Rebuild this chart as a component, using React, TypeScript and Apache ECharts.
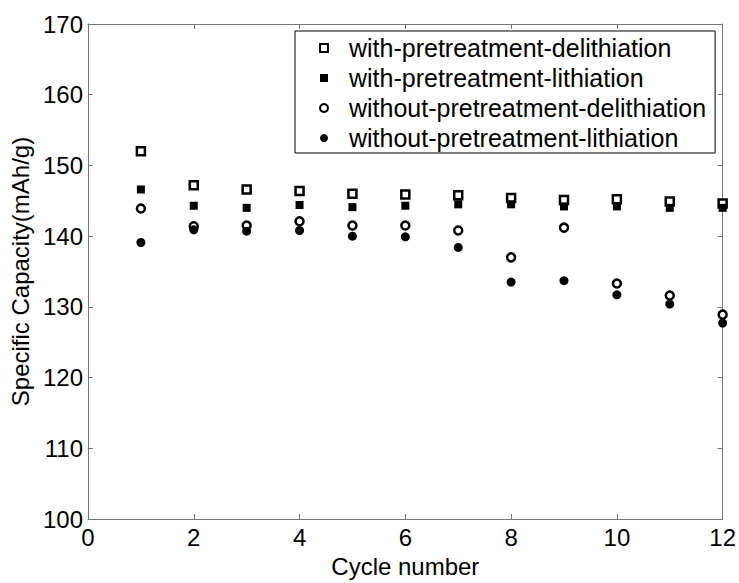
import React, { useEffect, useRef } from "react";
import * as echarts from "echarts";

const cycles = [1, 2, 3, 4, 5, 6, 7, 8, 9, 10, 11, 12];
const withPreDelith = [152.0, 147.2, 146.6, 146.4, 146.0, 145.9, 145.8, 145.4, 145.1, 145.2, 144.9, 144.6];
const withPreLith = [146.6, 144.3, 144.0, 144.4, 144.1, 144.3, 144.5, 144.5, 144.2, 144.2, 144.0, 144.0];
const withoutPreDelith = [143.9, 141.4, 141.5, 142.1, 141.5, 141.5, 140.8, 137.0, 141.2, 133.3, 131.6, 128.9];
const withoutPreLith = [139.1, 140.9, 140.7, 140.8, 140.0, 139.9, 138.4, 133.5, 133.7, 131.7, 130.4, 127.7];

const seriesNames = [
  "with-pretreatment-delithiation",
  "with-pretreatment-lithiation",
  "without-pretreatment-delithiation",
  "without-pretreatment-lithiation",
];

const FONT = "'Liberation Sans', Arial, Helvetica, sans-serif";

export default function App() {
  const ref = useRef<HTMLDivElement>(null);
  useEffect(() => {
    if (!ref.current) return;
    const chart = echarts.init(ref.current, null, { renderer: "svg" });
    const pair = (vals: number[]) => cycles.map((c, i) => [c, vals[i]]);
    const axisColor = "#777";
    const baseX = {
      type: "value",
      min: 0,
      max: 12,
      interval: 2,
      splitLine: { show: false },
      axisLine: { show: true, onZero: false, lineStyle: { color: axisColor, width: 1 } },
      axisTick: { show: true, inside: true, length: 5, lineStyle: { color: axisColor } },
    };
    const baseY = {
      type: "value",
      min: 100,
      max: 170,
      interval: 10,
      splitLine: { show: false },
      axisLine: { show: true, onZero: false, lineStyle: { color: axisColor, width: 1 } },
      axisTick: { show: true, inside: true, length: 5, lineStyle: { color: axisColor } },
    };
    chart.setOption({
      animation: false,
      backgroundColor: "#fff",
      grid: { left: 88, top: 24, right: 16, bottom: 59, containLabel: false },
      xAxis: [
        {
          ...baseX,
          position: "bottom",
          name: "Cycle number",
          nameLocation: "middle",
          nameGap: 35,
          nameTextStyle: { fontSize: 24, color: "#000", fontFamily: FONT },
          axisLabel: { fontSize: 24, color: "#000", fontFamily: FONT, margin: 6 },
        },
        { ...baseX, position: "top", axisLabel: { show: false } },
      ],
      yAxis: [
        {
          ...baseY,
          position: "left",
          name: "Specific Capacity(mAh/g)",
          nameLocation: "middle",
          nameGap: 48,
          nameTextStyle: { fontSize: 24, color: "#000", fontFamily: FONT },
          axisLabel: { fontSize: 24, color: "#000", fontFamily: FONT, margin: 5 },
        },
        { ...baseY, position: "right", axisLabel: { show: false } },
      ],
      legend: {
        show: true,
        orient: "vertical",
        left: 295,
        top: 31,
        padding: [2, 9, 0, 24],
        itemGap: 0,
        itemWidth: 8,
        itemHeight: 8,
        backgroundColor: "#fff",
        borderColor: "#000",
        borderWidth: 1,
        borderRadius: 0,
        textStyle: { fontSize: 25, color: "#000", fontFamily: FONT, lineHeight: 30, padding: [0, 0, 0, 16] },
        data: [
          { name: seriesNames[0], icon: "rect", itemStyle: { color: "#fff", borderColor: "#000", borderWidth: 2, opacity: 1 } },
          { name: seriesNames[1], icon: "rect", itemStyle: { color: "#000", borderWidth: 0, opacity: 1 } },
          { name: seriesNames[2], icon: "circle", itemStyle: { color: "#fff", borderColor: "#000", borderWidth: 2, opacity: 1 } },
          { name: seriesNames[3], icon: "circle", itemStyle: { color: "#000", borderWidth: 0, opacity: 1 } },
        ],
      },
      series: [
        {
          name: seriesNames[0],
          type: "scatter",
          symbol: "rect",
          symbolSize: 8,
          itemStyle: { color: "#fff", borderColor: "#000", borderWidth: 2.5, opacity: 1 },
          data: pair(withPreDelith),
          z: 2,
        },
        {
          name: seriesNames[1],
          type: "scatter",
          symbol: "rect",
          symbolSize: 8,
          itemStyle: { color: "#000", borderColor: "#000", borderWidth: 0, opacity: 1 },
          data: pair(withPreLith),
          z: 3,
        },
        {
          name: seriesNames[2],
          type: "scatter",
          symbol: "circle",
          symbolSize: 8,
          itemStyle: { color: "#fff", borderColor: "#000", borderWidth: 2.5, opacity: 1 },
          data: pair(withoutPreDelith),
          z: 4,
        },
        {
          name: seriesNames[3],
          type: "scatter",
          symbol: "circle",
          symbolSize: 9,
          itemStyle: { color: "#000", borderColor: "#000", borderWidth: 0, opacity: 1 },
          data: pair(withoutPreLith),
          z: 5,
        },
      ],
    });
    return () => chart.dispose();
  }, []);
  return <div ref={ref} style={{ width: 739, height: 583, position: "absolute", left: 0, top: 0 }} />;
}
